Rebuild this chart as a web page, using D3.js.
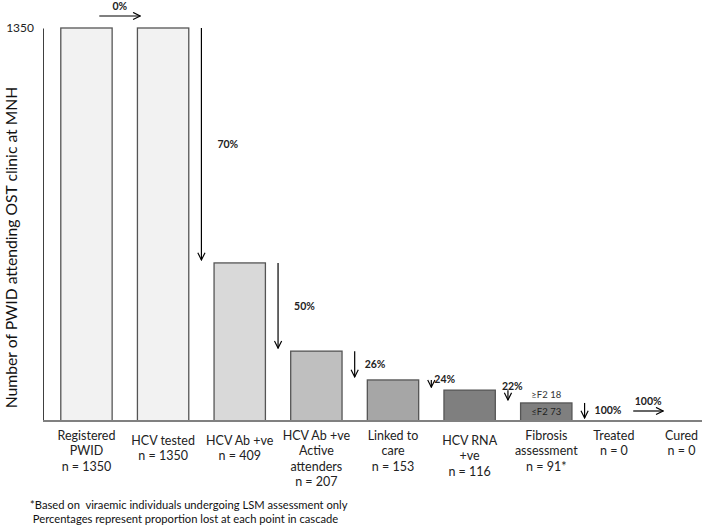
<!DOCTYPE html>
<html>
<head>
<meta charset="utf-8">
<script src="https://cdn.jsdelivr.net/npm/d3@7"></script>
<style>
  body { margin: 0; background: #fff; }
  svg { font-family: Lato, "Open Sans", sans-serif; }
</style>
</head>
<body>
<div id="chart"></div>
<script>
// Kaskad verileri
const categories = ['Registered PWID', 'HCV tested', 'HCV Ab +ve', 'HCV Ab +ve Active attenders',
  'Linked to care', 'HCV RNA +ve', 'Fibrosis assessment', 'Treated', 'Cured'];
const labelLines = [
  ['Registered', 'PWID', 'n = 1350'],
  ['HCV tested', 'n = 1350'],
  ['HCV Ab +ve', 'n = 409'],
  ['HCV Ab +ve', 'Active', 'attenders', 'n = 207'],
  ['Linked to', 'care', 'n = 153'],
  ['HCV RNA', '+ve', 'n = 116'],
  ['Fibrosis', 'assessment', 'n = 91*'],
  ['Treated', 'n = 0'],
  ['Cured', 'n = 0']
];
const counts = [1350, 1350, 409, 207, 153, 116, 91, 0, 0];
// bar heights as drawn in the picture (schematic, axis units)
const drawnValues = [1350, 1350, 543, 240, 141, 106, 62, 0, 0];
const barColors = ['#f2f2f2', '#f2f2f2', '#d9d9d9', '#bfbfbf', '#a6a6a6', '#7f7f7f', '#7f7f7f'];
// kayıp yüzdeleri (dikey oklar)
const dropLosses = [
  { from: 1, to: 2, label: '70%' },
  { from: 2, to: 3, label: '50%' },
  { from: 3, to: 4, label: '26%' },
  { from: 4, to: 5, label: '24%' },
  { from: 5, to: 6, label: '22%' },
  { from: 6, to: 7, label: '100%' }
];
const sideLosses = [
  { from: 0, to: 1, label: '0%', level: 1350 },
  { from: 7, to: 8, label: '100%', level: 0 }
];
const fibrosisSplit = ['\u2265F2 18', '\u2264F2 73'];
const yTicks = [1350];
const yTitle = 'Number of PWID attending OST clinic at MNH';
const footnotes = ['*Based on  viraemic individuals undergoing LSM assessment only',
  ' Percentages represent proportion lost at each point in cascade'];

const width = 709, height = 527;
const svg = d3.select('#chart').append('svg')
  .attr('width', width).attr('height', height);

svg.append('defs').append('marker')
  .attr('id', 'arr').attr('viewBox', '0 0 10 10')
  .attr('refX', 9).attr('refY', 5)
  .attr('markerWidth', 9).attr('markerHeight', 9)
  .attr('markerUnits', 'userSpaceOnUse')
  .attr('orient', 'auto')
  .append('path').attr('d', 'M1,1 L9,5 L1,9')
  .attr('fill', 'none').attr('stroke', '#000').attr('stroke-width', 1.3);

const x = d3.scaleBand().domain(categories)
  .range([47, 739]).paddingInner(0.33).paddingOuter(0.18);
const y = d3.scaleLinear().domain([0, 1350]).range([421, 28]);
const bw = x.bandwidth();
const step = x.step();

// eksen
const yAxis = svg.append('g').attr('transform', 'translate(43,0)')
  .call(d3.axisLeft(y).tickValues(yTicks).tickFormat(d3.format('d'))
    .tickSize(0).tickPadding(9).tickSizeOuter(0));
yAxis.select('.domain').attr('stroke', '#404040').attr('stroke-width', 1);
yAxis.selectAll('text').attr('font-size', 12).attr('font-family', 'Lato, sans-serif').attr('fill', '#222');

svg.append('text')
  .attr('transform', `translate(17,${(28 + 421) / 2 + 23}) rotate(-90)`)
  .attr('text-anchor', 'middle')
  .attr('font-size', 15.7).attr('fill', '#111')
  .text(yTitle);

// çubuklar
svg.append('g').selectAll('rect')
  .data(categories.slice(0, 7))
  .enter().append('rect')
  .attr('x', d => x(d))
  .attr('y', (d, i) => y(drawnValues[i]))
  .attr('width', bw)
  .attr('height', (d, i) => y(0) - y(drawnValues[i]))
  .attr('fill', (d, i) => barColors[i])
  .attr('stroke', '#555')
  .attr('stroke-width', 1.3);

// taban çizgisi
svg.append('line')
  .attr('x1', 43).attr('x2', 702)
  .attr('y1', y(0)).attr('y2', y(0))
  .attr('stroke', '#808080').attr('stroke-width', 2);

// fibrosis split
const fib = categories[6];
svg.append('text')
  .attr('x', x(fib) + bw / 2).attr('y', y(drawnValues[6]) - 5)
  .attr('text-anchor', 'middle').attr('font-size', 9.5).attr('fill', '#333')
  .text(fibrosisSplit[0]);
svg.append('text')
  .attr('x', x(fib) + bw / 2).attr('y', (y(drawnValues[6]) + y(0)) / 2 + 3.5)
  .attr('text-anchor', 'middle').attr('font-size', 9.5).attr('fill', '#222')
  .text(fibrosisSplit[1]);

// dikey oklar
const drops = svg.append('g');
dropLosses.forEach((d, i) => {
  const ax = x(categories[d.from]) + bw + (step - bw) / 2;
  const y1 = y(drawnValues[d.from]);
  const y2 = y(drawnValues[d.to]) - 3;
  drops.append('line')
    .attr('x1', ax).attr('x2', ax).attr('y1', y1).attr('y2', y2)
    .attr('stroke', '#000').attr('stroke-width', 1.2)
    .attr('marker-end', 'url(#arr)');
  const mid = (y1 + y2) / 2 + 4;
  // etiket konumu: uzun oklarda ortada, kısa oklarda üst uçta
  let lx = ax + 10, ly = mid;
  if (y2 - y1 > 50) lx = ax + 16;
  if (i === 3) { lx = ax + 3; ly = y1 + 3; }
  if (i === 4) { lx = ax - 6; ly = y1; }
  drops.append('text')
    .attr('x', lx).attr('y', ly)
    .attr('font-size', 10.5).attr('font-weight', 'bold').attr('fill', '#222')
    .text(d.label);
});

// yatay oklar
sideLosses.forEach((d, i) => {
  const c1 = x(categories[d.from]) + bw / 2;
  const c2 = x(categories[d.to]) + bw / 2;
  const mid = (c1 + c2) / 2 - (i === 0 ? 5 : 13);
  const len = i === 0 ? 41 : 30;
  const ly = i === 0 ? y(d.level) - 12 : y(d.level) - 10;
  svg.append('line')
    .attr('x1', mid - len / 2).attr('x2', mid + len / 2)
    .attr('y1', ly).attr('y2', ly)
    .attr('stroke', '#000').attr('stroke-width', 1.2)
    .attr('marker-end', 'url(#arr)');
  svg.append('text')
    .attr('x', mid).attr('y', ly - 6)
    .attr('text-anchor', 'middle')
    .attr('font-size', 10.5).attr('font-weight', 'bold').attr('fill', '#222')
    .text(d.label);
});

// kategori etiketleri
const lab = svg.append('g').selectAll('text')
  .data(categories)
  .enter().append('text')
  .attr('text-anchor', 'middle')
  .attr('font-size', 12.5).attr('fill', '#222');
lab.each(function(d, i) {
  const t = d3.select(this);
  // iki satırlık ilk etiketler biraz daha aşağıda başlıyor
  const shift = (labelLines[i].length === 2 && i < 7) || i === 2 || i === 5 ? 5 : 0;
  labelLines[i].forEach((ln, j) => {
    t.append('tspan')
      .attr('x', x(d) + bw / 2 - (i >= 7 ? (i - 6) * 9 : 0))
      .attr('y', 440 + shift + j * 15.3)
      .text(ln);
  });
});

// dipnotlar
svg.append('g').selectAll('text')
  .data(footnotes)
  .enter().append('text')
  .attr('x', 30)
  .attr('y', (d, i) => 509 + i * 14)
  .attr('font-size', 11.2).attr('fill', '#111')
  .attr('xml:space', 'preserve')
  .style('white-space', 'pre')
  .text(d => d);
</script>
</body>
</html>
